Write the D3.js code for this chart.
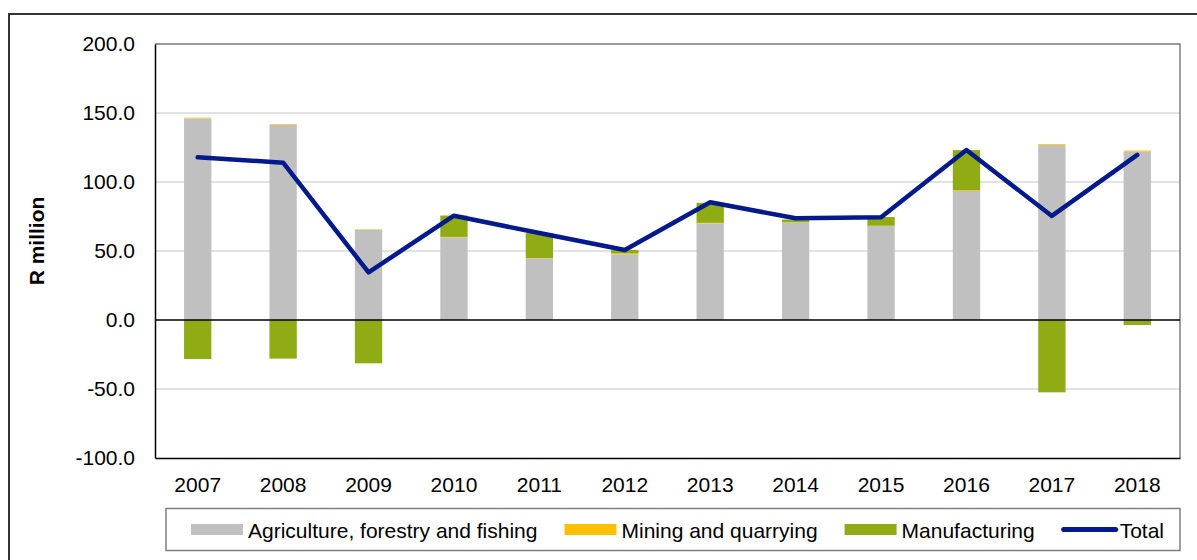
<!DOCTYPE html>
<html>
<head>
<meta charset="utf-8">
<script src="https://cdn.jsdelivr.net/npm/d3@7"></script>
<style>
  body { margin: 0; background: #fff; }
  svg text { font-family: "Liberation Sans", Arial, sans-serif; fill: #000; }
</style>
</head>
<body>
<div class="canvas"></div>
<script>
var years = ["2007", "2008", "2009", "2010", "2011", "2012", "2013", "2014", "2015", "2016", "2017", "2018"];
var agriculture = [146.0, 141.5, 65.5, 59.9, 44.7, 47.6, 70.0, 70.5, 68.1, 93.5, 126.8, 122.0];
var mining = [0.6, 0.5, 0.3, 0.3, 0.2, 0.6, 0.4, 0.3, 0.2, 0.6, 0.6, 0.8];
var manufacturing = [-28.3, -28.0, -31.4, 15.5, 18.1, 2.6, 14.5, 2.0, 6.3, 29.0, -52.4, -3.6];
var total = [117.9, 114.0, 34.5, 75.6, 63.0, 50.7, 85.3, 73.7, 74.4, 123.2, 75.4, 119.6];
var yTicks = [-100, -50, 0, 50, 100, 150, 200];

var seriesNames = ["Agriculture, forestry and fishing", "Mining and quarrying", "Manufacturing"];
var seriesKeys = ["agri", "mining", "manuf"];
var colors = {agri: "#c0c0c0", mining: "#ffc000", manuf: "#8fac15"};
var lineColor = "#041a8c";

var svg, x, y;

function init() {
    var width = 1197,
        height = 560;
    var left = 155, right = 1180, top = 44, bottom = 458;

    svg = d3.select(".canvas").append("svg")
            .attr("width", width)
            .attr("height", height);

    // outer frame, runs off the right and bottom edges
    svg.append("rect")
       .attr("x", 9).attr("y", 14)
       .attr("width", 1200).attr("height", 560)
       .attr("fill", "none")
       .attr("stroke", "#333")
       .attr("stroke-width", 2);

    x = d3.scaleBand().domain(years).range([left, right])
          .paddingInner(0.68).paddingOuter(0.34);
    y = d3.scaleLinear().domain([-100, 200]).range([bottom, top]);

    // grid
    svg.append("g").selectAll("line")
       .data(yTicks.filter(function (d) { return d !== 0 && d !== -100; }))
       .enter().append("line")
       .attr("x1", left).attr("x2", right)
       .attr("y1", function (d) { return y(d); })
       .attr("y2", function (d) { return y(d); })
       .attr("stroke", "#d9d9d9")
       .attr("stroke-width", 1.5);

    // plot border: top and right gray
    svg.append("path")
       .attr("d", "M" + left + "," + top + "H" + right + "V" + bottom)
       .attr("fill", "none")
       .attr("stroke", "#808080")
       .attr("stroke-width", 1.5);

    var rows = years.map(function (yr, i) {
        return {year: yr, agri: agriculture[i], mining: mining[i], manuf: manufacturing[i]};
    });
    var stack = d3.stack().keys(seriesKeys).offset(d3.stackOffsetDiverging);
    var layers = stack(rows);

    svg.append("g").selectAll("g")
       .data(layers)
       .enter().append("g")
       .attr("fill", function (d) { return colors[d.key]; })
       .selectAll("rect")
       .data(function (d) { return d; })
       .enter().append("rect")
       .attr("x", function (d) { return x(d.data.year); })
       .attr("width", x.bandwidth())
       .attr("y", function (d) { return y(Math.max(d[0], d[1])); })
       .attr("height", function (d) { return Math.abs(y(d[0]) - y(d[1])); });

    // axes
    var fmt = d3.format(".1f");
    var yAxis = svg.append("g")
       .attr("transform", "translate(" + left + ",0)")
       .call(d3.axisLeft(y).tickValues(yTicks).tickSize(0).tickPadding(20)
               .tickFormat(function (d) { return fmt(d).replace("\u2212", "-"); }));
    yAxis.select(".domain").attr("stroke", "#000").attr("stroke-width", 1.5);
    yAxis.selectAll("text").style("font-size", "21px");

    var xAxis = svg.append("g")
       .attr("transform", "translate(0," + bottom + ")")
       .call(d3.axisBottom(x).tickSize(0).tickPadding(19));
    xAxis.select(".domain").attr("stroke", "#000").attr("stroke-width", 1.5);
    xAxis.selectAll("text").style("font-size", "21px");

    // zero line
    svg.append("line")
       .attr("x1", left).attr("x2", right)
       .attr("y1", y(0)).attr("y2", y(0))
       .attr("stroke", "#000")
       .attr("stroke-width", 1.5);

    // total line
    var line = d3.line()
       .x(function (d, i) { return x(years[i]) + x.bandwidth() / 2; })
       .y(function (d) { return y(d); });
    svg.append("path")
       .datum(total)
       .attr("d", line)
       .attr("fill", "none")
       .attr("stroke", lineColor)
       .attr("stroke-width", 4.5)
       .attr("stroke-linejoin", "round")
       .attr("stroke-linecap", "round");

    // y title
    svg.append("text")
       .attr("transform", "translate(44," + 241 + ") rotate(-90)")
       .attr("text-anchor", "middle")
       .style("font-size", "21px")
       .style("font-weight", "bold")
       .text("R million");

    legend();
}

function legend() {
    svg.append("rect")
       .attr("x", 166).attr("y", 508.5)
       .attr("width", 1014).attr("height", 42)
       .attr("fill", "#fff")
       .attr("stroke", "#808080")
       .attr("stroke-width", 1.5);

    var lx = 191, ly = 529.5;
    var items = seriesNames.map(function (n, i) { return {name: n, key: seriesKeys[i]}; });
    items.push({name: "Total", key: "total"});
    items.forEach(function (item) {
        if (item.key === "total") {
            svg.append("line")
               .attr("x1", lx + 2).attr("x2", lx + 54)
               .attr("y1", ly).attr("y2", ly)
               .attr("stroke", lineColor)
               .attr("stroke-width", 5)
               .attr("stroke-linecap", "round");
        } else {
            svg.append("rect")
               .attr("x", lx).attr("y", ly - 5.5)
               .attr("width", 52).attr("height", 11)
               .attr("fill", colors[item.key]);
        }
        var t = svg.append("text")
           .attr("x", lx + (item.key === "total" ? 58 : 57))
           .attr("y", 537.5)
           .style("font-size", "21px")
           .text(item.name);
        lx += 57 + t.node().getComputedTextLength() + 27;
    });
}

init();
</script>
</body>
</html>
